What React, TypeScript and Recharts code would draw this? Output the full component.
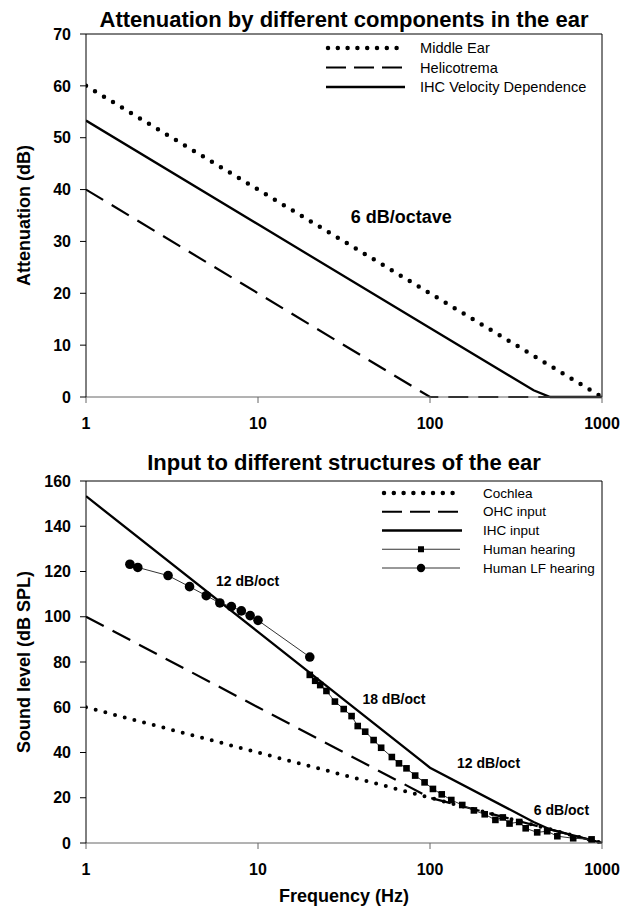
import React from "react";
import {
  LineChart,
  Line,
  XAxis,
  YAxis,
  ReferenceLine,
  ReferenceDot,
} from "recharts";

// ---- top chart: attenuation (dB) ----
const attFreq = [1, 10, 100, 1000];
const middleEar = [60, 40, 20, 0];
const helicotrema = [40, 20, 0, 0];
const ihcVelFreq = [1, 10, 100, 400, 500, 1000];
const ihcVelocity = [53.3, 33.3, 13.3, 1.3, 0, 0];
const attTicks = [0, 10, 20, 30, 40, 50, 60, 70];

// ---- bottom chart: sound level (dB SPL) ----
const inFreq = [1, 10, 100, 1000];
const cochlea = [60, 40, 20, 0];
const ohcInput = [100, 60, 20, 0];
const ihcInFreq = [1, 10, 100, 400, 500, 1000];
const ihcInput = [153.3, 93.3, 33.3, 9.3, 6, 0];
const hearFreq = [
  20, 21.5, 23, 25, 28, 31.5, 35, 38, 42, 47, 52, 60, 66, 73, 82, 93, 104,
  117, 133, 154, 180, 208, 240, 265, 290, 330, 360, 420, 480, 550, 680, 870,
];
const humanHearing = [
  74.3, 71.7, 69.8, 67.2, 62.5, 59.2, 56.1, 51.7, 49.2, 45.5, 42.1, 38, 35.2,
  33, 29.8, 26.8, 23.9, 21.5, 19, 16.8, 14.4, 12.7, 10.2, 11.3, 8.6, 9.3, 6.5,
  4.7, 5.2, 3, 2.1, 1.6,
];
const lfFreq = [1.8, 2, 3, 4, 5, 6, 7, 8, 9, 10, 20];
const humanLF = [123.2, 121.8, 118.2, 113.3, 109.3, 106.1, 104.5, 102.6, 100.5, 98.4, 82.2];
const inTicks = [0, 20, 40, 60, 80, 100, 120, 140, 160];

const freqTicks = [1, 10, 100, 1000];

const pairs = (xs: number[], ys: number[]) => xs.map((f, i) => ({ f, v: ys[i] }));

const FONT = '"Liberation Sans", Arial, Helvetica, sans-serif';
const DOTTED = { strokeDasharray: "0 10.5", strokeLinecap: "round" as const, strokeWidth: 4.5 };
const DOTTED_SM = { strokeDasharray: "0 10", strokeLinecap: "round" as const, strokeWidth: 4 };

const tickStyle = { fontSize: 16, fontWeight: 700, fill: "#000", fontFamily: FONT };

const yTitle = (text: string) => (props: any) => {
  const vb = props.viewBox;
  const cx = 24;
  const cy = vb.y + vb.height / 2;
  return (
    <text
      x={cx}
      y={cy}
      transform={`rotate(-90 ${cx} ${cy})`}
      textAnchor="middle"
      dominantBaseline="central"
      fontSize={18}
      fontWeight={700}
      fontFamily={FONT}
      fill="#000"
    >
      {text}
    </text>
  );
};

const xTitle = (props: any) => {
  const vb = props.viewBox;
  return (
    <text
      x={vb.x + vb.width / 2}
      y={vb.y + 59}
      textAnchor="middle"
      fontSize={18}
      fontWeight={700}
      fontFamily={FONT}
      fill="#000"
    >
      Frequency (Hz)
    </text>
  );
};

const Square = (p: any) => (
  <rect key={`sq-${p.index}`} x={p.cx - 3.3} y={p.cy - 3.3} width={6.6} height={6.6} fill="#000" />
);
const Circle = (p: any) => (
  <circle key={`ci-${p.index}`} cx={p.cx} cy={p.cy} r={4.8} fill="#000" />
);

const note = (text: string, size: number) => ({
  value: text,
  position: "center" as const,
  fontSize: size,
  fontWeight: 700,
  fill: "#000",
  fontFamily: FONT,
});

type LegendRow = { name: string; kind: "dot" | "dash" | "solid" | "square" | "circle" };

const legendBox = (rows: LegendRow[], gap: number, fs: number, x0: number, x1: number, tx: number) => () => (
  <svg width={300} height={rows.length * gap + 10} style={{ display: "block" }}>
    {rows.map((r, i) => {
      const y = 8 + i * gap;
      const mid = (x0 + x1) / 2;
      return (
        <g key={r.name}>
          {r.kind === "dot" && (
            <line x1={x0 + 2} y1={y} x2={x1} y2={y} stroke="#000" strokeWidth={4.5} strokeDasharray="0 9.8" strokeLinecap="round" />
          )}
          {r.kind === "dash" && (
            <line x1={x0} y1={y} x2={x1} y2={y} stroke="#000" strokeWidth={2.2} strokeDasharray="20 8" />
          )}
          {r.kind === "solid" && <line x1={x0} y1={y} x2={x1 + 2} y2={y} stroke="#000" strokeWidth={2.5} />}
          {(r.kind === "square" || r.kind === "circle") && (
            <line x1={x0} y1={y} x2={x1} y2={y} stroke="#333" strokeWidth={1} />
          )}
          {r.kind === "square" && <rect x={mid - 3} y={y - 3} width={6} height={6} fill="#000" />}
          {r.kind === "circle" && <circle cx={mid} cy={y} r={4.2} fill="#000" />}
          <text x={tx} y={y} dominantBaseline="central" fontSize={fs} fontFamily={FONT} fill="#000">
            {r.name}
          </text>
        </g>
      );
    })}
  </svg>
);

const TopLegend = legendBox(
  [
    { name: "Middle Ear", kind: "dot" },
    { name: "Helicotrema", kind: "dash" },
    { name: "IHC Velocity Dependence", kind: "solid" },
  ],
  19.5,
  14.6,
  6,
  83,
  100
);

const BottomLegend = legendBox(
  [
    { name: "Cochlea", kind: "dot" },
    { name: "OHC input", kind: "dash" },
    { name: "IHC input", kind: "solid" },
    { name: "Human hearing", kind: "square" },
    { name: "Human LF hearing", kind: "circle" },
  ],
  18.75,
  13.5,
  2,
  80,
  103
);

const titleStyle = (top: number): React.CSSProperties => ({
  position: "absolute",
  left: 0,
  width: 688,
  top,
  textAlign: "center",
  fontSize: 22,
  lineHeight: "22px",
  fontWeight: 700,
  fontFamily: FONT,
  color: "#000",
  whiteSpace: "nowrap",
});

export default function App() {
  return (
    <div style={{ position: "absolute", left: 0, top: 0, width: 635, height: 907, background: "#fff", fontFamily: FONT }}>
      <div style={titleStyle(8.5)}>Attenuation by different components in the ear</div>
      <div style={{ position: "absolute", left: 0, top: 0 }}>
        <LineChart width={635} height={445} margin={{ top: 34, right: 33, bottom: 0, left: 0 }}>
          <XAxis
            dataKey="f"
            type="number"
            scale="log"
            domain={[1, 1000]}
            ticks={freqTicks}
            allowDataOverflow
            height={48}
            tick={tickStyle}
            tickSize={6}
            tickMargin={15}
            stroke="#666"
            interval={0}
          />
          <YAxis
            type="number"
            domain={[0, 70]}
            ticks={attTicks}
            width={86}
            tick={tickStyle}
            tickSize={6}
            tickMargin={9}
            stroke="#000"
            interval={0}
            label={yTitle("Attenuation (dB)")}
          />
          <ReferenceLine y={70} stroke="#000" strokeWidth={1} />
          <ReferenceLine x={1000} stroke="#000" strokeWidth={1} />
          <Line data={pairs(attFreq, helicotrema)} dataKey="v" stroke="#000" strokeWidth={2.2} strokeDasharray="20 10" dot={false} activeDot={false} isAnimationActive={false} />
          <Line data={pairs(ihcVelFreq, ihcVelocity)} dataKey="v" stroke="#000" strokeWidth={2.3} dot={false} activeDot={false} isAnimationActive={false} />
          <Line data={pairs(attFreq, middleEar)} dataKey="v" stroke="#000" {...DOTTED} dot={false} activeDot={false} isAnimationActive={false} />
          <ReferenceDot x={68} y={34.7} r={1} fill="none" stroke="none" label={note("6 dB/octave", 18)} />
        </LineChart>
        <div style={{ position: "absolute", left: 320, top: 40 }}>
          <TopLegend />
        </div>
      </div>

      <div style={titleStyle(452)}>Input to different structures of the ear</div>
      <div style={{ position: "absolute", left: 0, top: 430 }}>
        <LineChart width={635} height={477} margin={{ top: 51, right: 33, bottom: 0, left: 0 }}>
          <XAxis
            dataKey="f"
            type="number"
            scale="log"
            domain={[1, 1000]}
            ticks={freqTicks}
            allowDataOverflow
            height={64}
            tick={tickStyle}
            tickSize={6}
            tickMargin={15}
            stroke="#666"
            interval={0}
            label={xTitle}
          />
          <YAxis
            type="number"
            domain={[0, 160]}
            ticks={inTicks}
            width={86}
            tick={tickStyle}
            tickSize={6}
            tickMargin={9}
            stroke="#000"
            interval={0}
            label={yTitle("Sound level (dB SPL)")}
          />
          <ReferenceLine y={160} stroke="#000" strokeWidth={1} />
          <ReferenceLine x={1000} stroke="#000" strokeWidth={1} />
          <Line data={pairs(inFreq, ohcInput)} dataKey="v" stroke="#000" strokeWidth={2.2} strokeDasharray="20 10" dot={false} activeDot={false} isAnimationActive={false} />
          <Line data={pairs(inFreq, cochlea)} dataKey="v" stroke="#000" {...DOTTED_SM} dot={false} activeDot={false} isAnimationActive={false} />
          <Line data={pairs(ihcInFreq, ihcInput)} dataKey="v" stroke="#000" strokeWidth={2.3} dot={false} activeDot={false} isAnimationActive={false} />
          <Line data={pairs(hearFreq, humanHearing)} dataKey="v" stroke="#333" strokeWidth={1} dot={Square} activeDot={false} isAnimationActive={false} />
          <Line data={pairs(lfFreq, humanLF)} dataKey="v" stroke="#333" strokeWidth={1} dot={Circle} activeDot={false} isAnimationActive={false} />
          <ReferenceDot x={8.7} y={116} r={1} fill="none" stroke="none" label={note("12 dB/oct", 14)} />
          <ReferenceDot x={61.7} y={63.8} r={1} fill="none" stroke="none" label={note("18 dB/oct", 14)} />
          <ReferenceDot x={219} y={35.2} r={1} fill="none" stroke="none" label={note("12 dB/oct", 14)} />
          <ReferenceDot x={581} y={14.6} r={1} fill="none" stroke="none" label={note("6 dB/oct", 14)} />
        </LineChart>
        <div style={{ position: "absolute", left: 380, top: 55 }}>
          <BottomLegend />
        </div>
      </div>
    </div>
  );
}
